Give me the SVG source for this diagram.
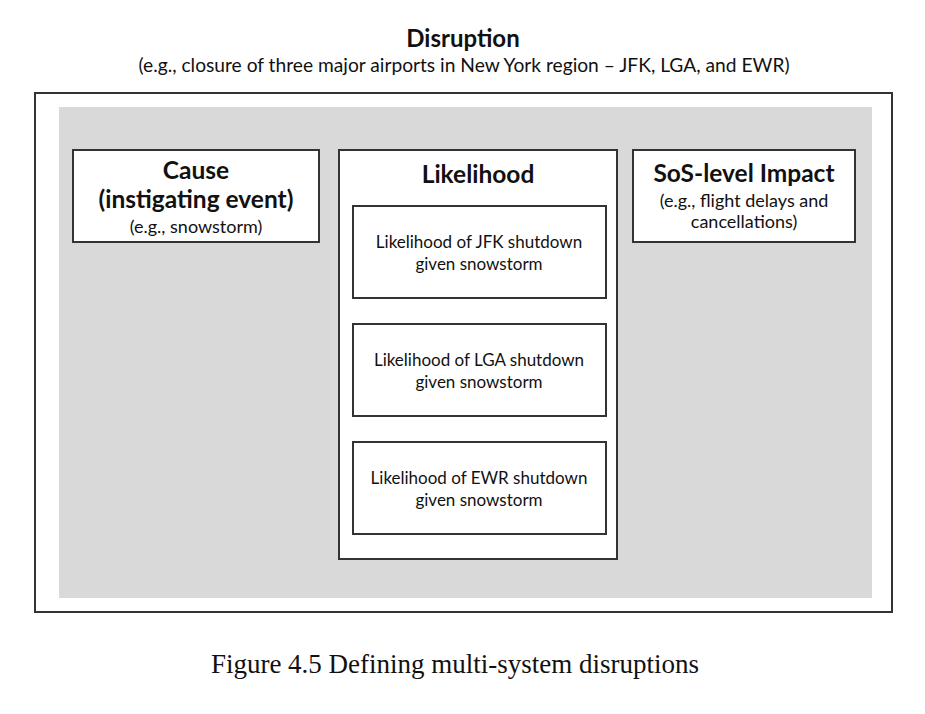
<svg xmlns="http://www.w3.org/2000/svg" width="925" height="714" viewBox="0 0 925 714">
<style>
.t{font-family:Lato,"Open Sans","Liberation Sans",sans-serif;fill:#111;text-anchor:middle}
.h{font-weight:bold;font-size:24.5px}
.s{font-size:18px}
.i{font-size:17px}
.box{fill:#fff;stroke:#333;stroke-width:2}
</style>
<rect width="925" height="714" fill="#fff"/>
<g id="title">
<text class="t" x="463" y="47" style="font-weight:bold;font-size:24px">Disruption</text>
<text class="t" x="464" y="72" style="font-size:19.2px">(e.g., closure of three major airports in New York region – JFK, LGA, and EWR)</text>
</g>
<g id="frame">
<rect x="35" y="93" width="857" height="519" fill="#fff" stroke="#333" stroke-width="2"/>
<rect x="59" y="107" width="813" height="491" fill="#d9d9d9"/>
</g>
<g id="cause">
<rect class="box" x="73" y="150" width="246" height="92"/>
<text class="t h" x="196" y="179">Cause</text>
<text class="t h" x="196" y="208">(instigating event)</text>
<text class="t s" x="196" y="233">(e.g., snowstorm)</text>
</g>
<g id="likelihood">
<rect class="box" x="339" y="150" width="278" height="409"/>
<text class="t h" x="478" y="183">Likelihood</text>
</g>
<g id="jfk">
<rect class="box" x="353" y="206" width="253" height="92"/>
<text class="t i" x="479" y="248">Likelihood of JFK shutdown</text>
<text class="t i" x="479" y="270">given snowstorm</text>
</g>
<g id="lga">
<rect class="box" x="353" y="324" width="253" height="92"/>
<text class="t i" x="479" y="366">Likelihood of LGA shutdown</text>
<text class="t i" x="479" y="388">given snowstorm</text>
</g>
<g id="ewr">
<rect class="box" x="353" y="442" width="253" height="92"/>
<text class="t i" x="479" y="484">Likelihood of EWR shutdown</text>
<text class="t i" x="479" y="506">given snowstorm</text>
</g>
<g id="impact">
<rect class="box" x="633" y="150" width="222" height="92"/>
<text class="t h" x="744" y="182">SoS-level Impact</text>
<text class="t s" x="744" y="207">(e.g., flight delays and</text>
<text class="t s" x="744" y="228">cancellations)</text>
</g>
<g id="connectors"></g>
<g id="caption">
<text x="455" y="673" style="font-family:'Liberation Serif','Times New Roman',serif;font-size:27px;fill:#111;text-anchor:middle">Figure 4.5 Defining multi-system disruptions</text>
</g>
</svg>
